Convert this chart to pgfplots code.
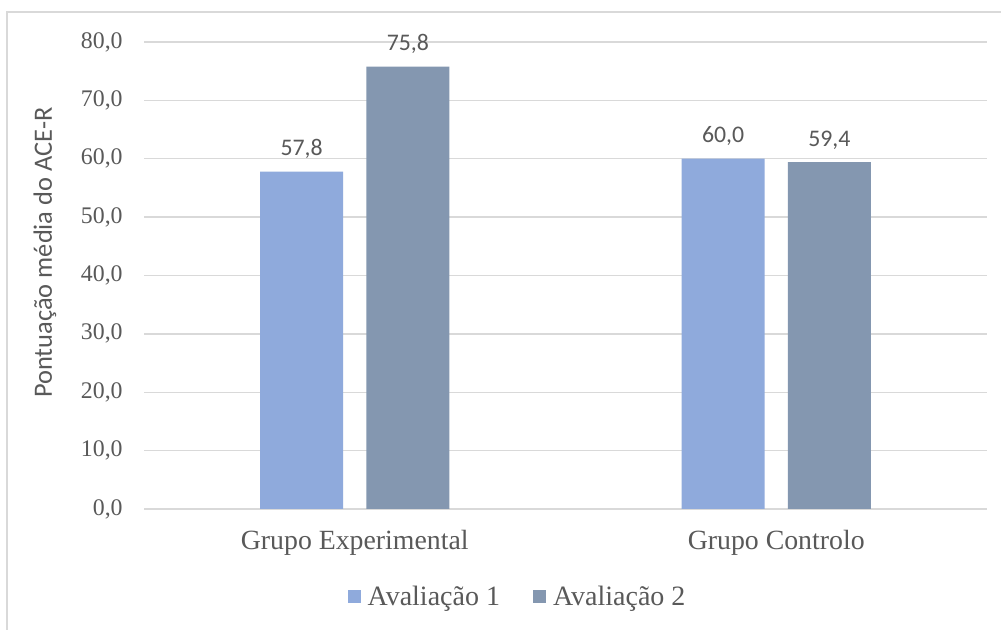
\documentclass[border=0pt]{standalone}
\usepackage{pgfplots}
\pgfplotsset{compat=1.18}
\usepackage{fontspec}
\setmainfont{Liberation Serif}
\newfontfamily\carlito{Carlito}
\definecolor{txt}{HTML}{595959}
\definecolor{gridc}{HTML}{D9D9D9}
\definecolor{avalA}{HTML}{8FAADC}
\definecolor{avalB}{HTML}{8497B0}

\pgfplotsset{
  sqlegend/.style={legend image code/.code={\fill[##1] (0pt,-3.25pt) rectangle (6.5pt,3.25pt);}}
}

\begin{document}
\begin{tikzpicture}
\useasboundingbox (0,0) rectangle (500.5pt,315pt);
\fill[white] (0,0) rectangle (500.5pt,315pt);
\draw[gridc, line width=0.75pt] (3.5pt,0) -- (3.5pt,309pt) -- (500.5pt,309pt);
\begin{axis}[
  at={(72pt,60.5pt)}, anchor=south west,
  scale only axis, width=421.5pt, height=233.5pt,
  ymin=0, ymax=80, xmin=-0.5, xmax=1.5,
  ytick={0,10,...,80},
  xtick={0,1}, xticklabels={Grupo Experimental, Grupo Controlo},
  ymajorgrids, grid style={gridc, line width=0.65pt},
  axis lines*=left,
  y axis line style={draw=none},
  x axis line style={gridc, line width=0.65pt},
  major tick length=0pt,
  /pgf/number format/fixed,
  /pgf/number format/fixed zerofill,
  /pgf/number format/precision=1,
  /pgf/number format/use comma,
  /pgf/number format/assume math mode=true,
  ybar, bar width=0.1969,
  nodes near coords,
  nodes near coords style={font=\carlito\fontsize{11.9pt}{14pt}\selectfont, text=txt, anchor=base, inner sep=0pt, yshift=8pt},
  ticklabel style={text=txt},
  yticklabel style={font=\fontsize{11.9pt}{14pt}\selectfont, anchor=east, inner sep=0pt, xshift=-10.5pt},
  xticklabel style={font=\fontsize{13.9pt}{16pt}\selectfont, anchor=base, inner sep=0pt, yshift=-20.5pt},
  ylabel={Pontuação média do ACE-R},
  ylabel style={at={(rel axis cs:-0.1174,0.549)}, anchor=center, font=\carlito\fontsize{13.2pt}{15pt}\selectfont, text=txt, inner sep=0pt},
  legend columns=2,
  legend style={at={(0.4419,-0.1884)}, anchor=center, draw=none, fill=none, inner sep=0pt,
    font=\fontsize{14pt}{16pt}\selectfont, text=txt, nodes={inner sep=0pt},
    /tikz/every odd column/.append style={column sep=3.5pt},
    /tikz/every even column/.append style={column sep=16.5pt}},
  clip=false,
]
\addplot[fill=avalA, draw=none, bar shift=-0.126, sqlegend] coordinates {(0,57.8) (1,60.0)};
\addplot[fill=avalB, draw=none, bar shift=0.126, sqlegend] coordinates {(0,75.8) (1,59.4)};
\legend{Avaliação 1, Avaliação 2}
\end{axis}
\end{tikzpicture}
\end{document}
